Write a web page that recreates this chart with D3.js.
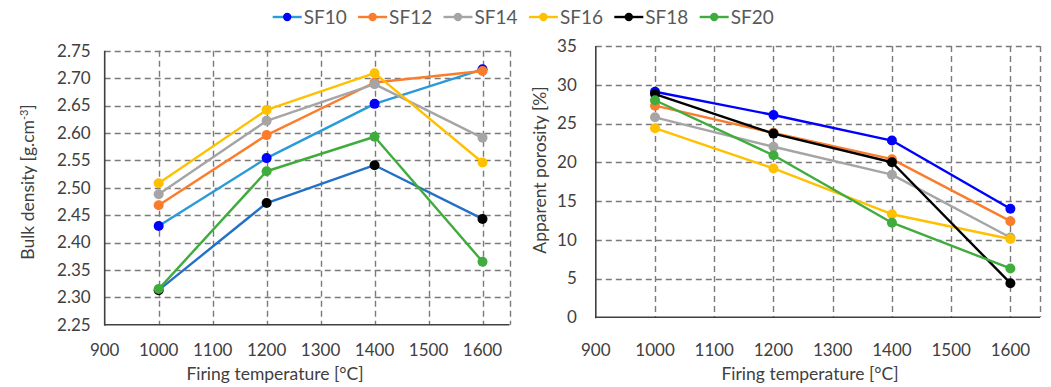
<!DOCTYPE html>
<html><head><meta charset="utf-8">
<script src="https://cdn.jsdelivr.net/npm/d3@7"></script>
<style>
html,body{margin:0;padding:0;background:#fff;}
svg{display:block;font-family:"Lato","Open Sans",sans-serif;}
</style></head>
<body><svg id="c" width="1051" height="387"></svg>
<script>
const temps = [1000, 1200, 1400, 1600];
const seriesNames = ["SF10", "SF12", "SF14", "SF16", "SF18", "SF20"];
const density = {
  SF10: [2.430, 2.554, 2.653, 2.716],
  SF12: [2.468, 2.596, 2.692, 2.713],
  SF14: [2.488, 2.622, 2.689, 2.591],
  SF16: [2.508, 2.642, 2.709, 2.546],
  SF18: [2.313, 2.472, 2.541, 2.443],
  SF20: [2.315, 2.530, 2.593, 2.365]
};
const porosity = {
  SF10: [29.1, 26.1, 22.8, 14.0],
  SF12: [27.3, 23.8, 20.4, 12.4],
  SF14: [25.8, 22.0, 18.4, 10.3],
  SF16: [24.4, 19.2, 13.3, 10.1],
  SF18: [28.8, 23.7, 20.0, 4.4],
  SF20: [28.0, 20.9, 12.2, 6.3]
};
const xTicks = [900, 1000, 1100, 1200, 1300, 1400, 1500, 1600];
const densityTicks = [2.25, 2.30, 2.35, 2.40, 2.45, 2.50, 2.55, 2.60, 2.65, 2.70, 2.75];
const porosityTicks = [0, 5, 10, 15, 20, 25, 30, 35];

const markerColor = {SF10:"#0000ff", SF12:"#fb7d2c", SF14:"#a5a5a5", SF16:"#ffc000", SF18:"#000000", SF20:"#3fac3d"};
const leftLineColor = {SF10:"#2a9ad8", SF12:"#fb7d2c", SF14:"#a5a5a5", SF16:"#ffc000", SF18:"#2270c8", SF20:"#3fac3d"};
const rightLineColor = {SF10:"#0000ff", SF12:"#fb7d2c", SF14:"#a5a5a5", SF16:"#ffc000", SF18:"#000000", SF20:"#3fac3d"};
const legendLineColor = {SF10:"#2a9ad8", SF12:"#fb7d2c", SF14:"#a5a5a5", SF16:"#ffc000", SF18:"#000000", SF20:"#3fac3d"};

const svg = d3.select("#c");
const FS = 17;

function panel(opts){
  const g = svg.append("g");
  const x = d3.scaleLinear().domain([900,1650]).range([opts.x0, opts.x1]);
  const y = d3.scaleLinear().domain(opts.ydom).range([opts.y0, opts.y1]);
  const grid = g.append("g").attr("stroke","#7a7a7a").attr("stroke-width",1.4).attr("stroke-dasharray","6,4").attr("fill","none");
  opts.yticks.slice(1).forEach(t=>{
    grid.append("line").attr("x1",x(900)).attr("x2",x(1650)).attr("y1",Math.round(y(t))+0.5).attr("y2",Math.round(y(t))+0.5);
  });
  xTicks.slice(1).concat([1650]).forEach(t=>{
    grid.append("line").attr("x1",Math.round(x(t))+0.5).attr("x2",Math.round(x(t))+0.5).attr("y1",y(opts.ydom[1])).attr("y2",y(opts.ydom[0]));
  });
  g.append("line").attr("x1",x(900)).attr("x2",x(900)).attr("y1",y(opts.ydom[1])).attr("y2",y(opts.ydom[0])+1).attr("stroke","#404040").attr("stroke-width",1.6);
  g.append("line").attr("x1",x(900)).attr("x2",x(1650)).attr("y1",y(opts.ydom[0])).attr("y2",y(opts.ydom[0])).attr("stroke","#404040").attr("stroke-width",1.6);
  g.append("g").selectAll("text").data(opts.yticks).join("text")
    .attr("x", x(900) - opts.ylabGap).attr("y", d=>y(d)).attr("dy","0.35em")
    .attr("text-anchor","end").attr("font-size",FS).attr("fill","#404040")
    .text(d=>opts.yfmt(d));
  g.append("g").selectAll("text").data(xTicks).join("text")
    .attr("x", d=>x(d)).attr("y", 356).attr("text-anchor","middle")
    .attr("font-size",FS).attr("fill","#404040").text(d=>d);
  const line = d3.line().x((d,i)=>x(temps[i])).y(d=>y(d));
  seriesNames.forEach(s=>{
    const vals = opts.data[s];
    g.append("path").attr("d", line(vals)).attr("fill","none")
      .attr("stroke", opts.lineColor[s]).attr("stroke-width",2.4).attr("stroke-linejoin","round");
    g.append("g").selectAll("circle").data(vals).join("circle")
      .attr("cx",(d,i)=>x(temps[i])).attr("cy",d=>y(d)).attr("r",opts.r)
      .attr("fill",markerColor[s]);
  });
  g.append("text").attr("x",opts.xtitleX).attr("y",380).attr("text-anchor","middle")
    .attr("font-size",17.5).attr("fill","#404040").text("Firing temperature [°C]");
  return {g,x,y};
}

panel({x0:104.7, x1:509.5, y0:324.7, y1:50.7, ydom:[2.25,2.75], yticks:densityTicks,
  yfmt:d3.format(".2f"), ylabGap:14, data:density, lineColor:leftLineColor, r:5, xtitleX:275});
panel({x0:595.8, x1:1040, y0:317.3, y1:46, ydom:[0,35], yticks:porosityTicks,
  yfmt:d=>d, ylabGap:19, data:porosity, lineColor:rightLineColor, r:5, xtitleX:810});

const lt = svg.append("text").attr("transform","translate(34,182) rotate(-90)")
  .attr("text-anchor","middle").attr("font-size",17.5).attr("fill","#404040");
lt.append("tspan").text("Bulk density [g.cm");
lt.append("tspan").attr("font-size",11).attr("baseline-shift","super").text("-3");
lt.append("tspan").text("]");
svg.append("text").attr("transform","translate(546,170) rotate(-90)")
  .attr("text-anchor","middle").attr("font-size",17.5).attr("fill","#404040").text("Apparent porosity [%]");

const leg = svg.append("g");
seriesNames.forEach((s,i)=>{
  const lx = 272.7 + i*85.4;
  const gi = leg.append("g").attr("transform",`translate(${lx},17)`);
  gi.append("line").attr("x1",0).attr("x2",29).attr("y1",0).attr("y2",0).attr("stroke",legendLineColor[s]).attr("stroke-width",2.4);
  gi.append("circle").attr("cx",14.5).attr("cy",0).attr("r",4.2).attr("fill",markerColor[s]);
  gi.append("text").attr("x",31).attr("y",0).attr("dy","0.35em").attr("font-size",19).attr("fill","#595959").text(s);
});
</script></body></html>
